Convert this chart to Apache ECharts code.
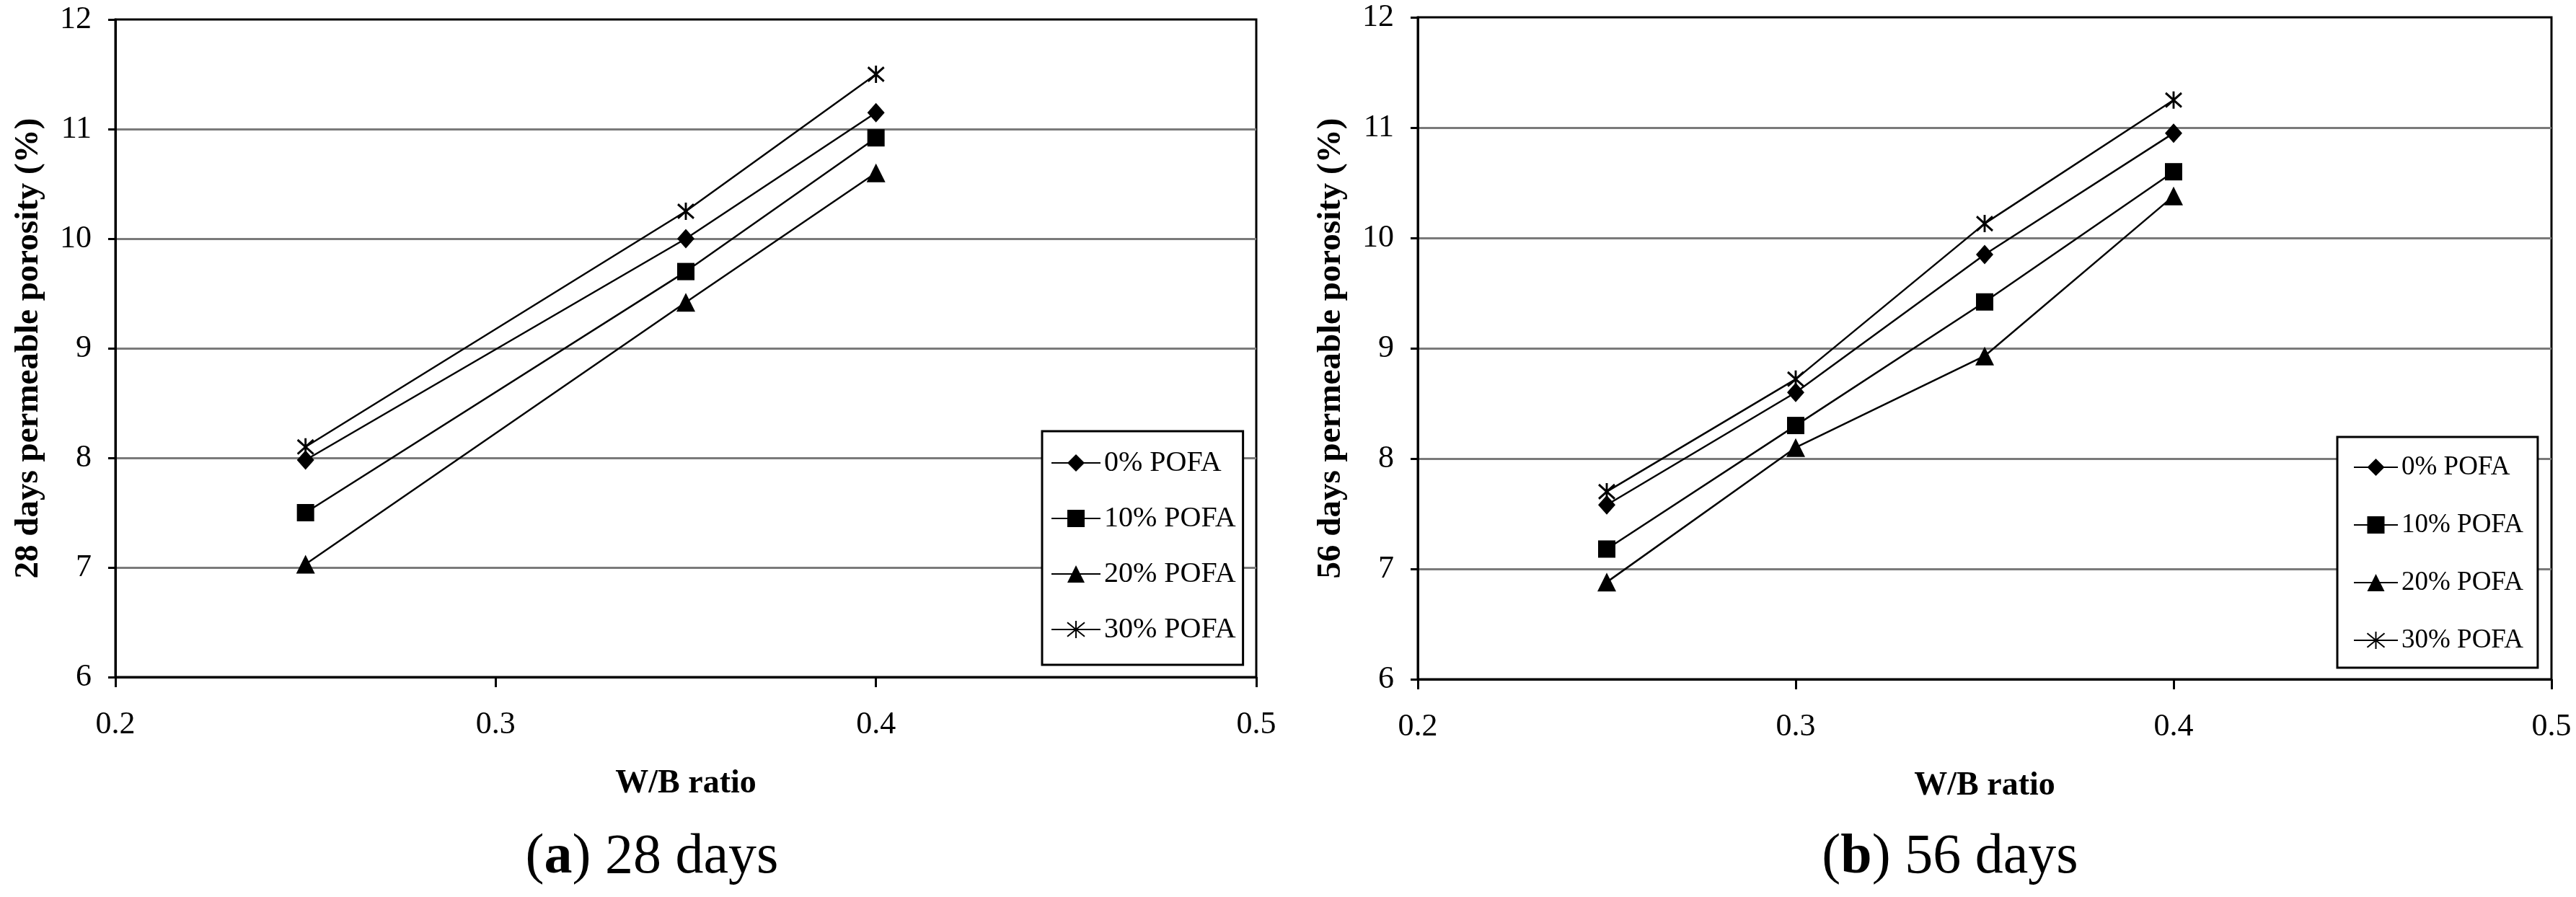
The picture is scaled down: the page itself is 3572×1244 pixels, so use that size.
<!DOCTYPE html>
<html><head><meta charset="utf-8">
<script src="https://cdn.jsdelivr.net/npm/echarts@6/dist/echarts.min.js"></script>
<style>html,body{margin:0;padding:0;background:#fff}#c{width:3572px;height:1244px}</style>
</head><body><div id="c"></div>
<script>
// ---- data ----
const seriesNames = ['0% POFA', '10% POFA', '20% POFA', '30% POFA'];
const wb28 = [0.25, 0.35, 0.4];
const d28_0 = [7.98, 10.0, 11.15];
const d28_10 = [7.5, 9.7, 10.92];
const d28_20 = [7.03, 9.42, 10.6];
const d28_30 = [8.1, 10.25, 11.5];
const wb56 = [0.25, 0.3, 0.35, 0.4];
const d56_0 = [7.58, 8.6, 9.85, 10.95];
const d56_10 = [7.18, 8.3, 9.42, 10.6];
const d56_20 = [6.88, 8.1, 8.93, 10.38];
const d56_30 = [7.7, 8.72, 10.13, 11.25];
const xMin = 0.2, xMax = 0.5, xStep = 0.1;
const yMin = 6, yMax = 12, yStep = 1;
const yTitles = ['28 days permeable porosity (%)', '56 days permeable porosity (%)'];
const xTitle = 'W/B ratio';
const captions = [['a', '28 days'], ['b', '56 days']];

const FF = 'Liberation Serif';
const starPath = 'path://M10 0 L10 22 M0 2 L20 20 M0 20 L20 2';
const symbols = ['diamond', 'rect', 'triangle', starPath];
const symSizes = [[24, 27], [24, 24], [26, 26], [22, 24]];

function mk(name, xs, ys, idx, k) {
  return {
    type: 'line', name: name, xAxisIndex: idx, yAxisIndex: idx,
    data: xs.map((x, i) => [x, ys[i]]),
    symbol: symbols[k], symbolSize: symSizes[k],
    lineStyle: { color: '#000', width: 2.5 },
    itemStyle: { color: '#000', borderColor: '#000', borderWidth: k === 3 ? 3 : 0 },
    emphasis: { disabled: true }, animation: false, z: 3
  };
}
function xAx(idx) {
  return {
    type: 'value', gridIndex: idx, min: xMin, max: xMax, interval: xStep,
    axisLine: { show: true, lineStyle: { color: '#000', width: 3 } },
    axisTick: { show: true, inside: false, length: 14, lineStyle: { color: '#000', width: 3 } },
    axisLabel: { fontSize: 44, color: '#000', fontFamily: FF, margin: 44, formatter: v => v.toFixed(1) },
    splitLine: { show: false },
    name: xTitle, nameLocation: 'middle', nameGap: 125,
    nameTextStyle: { fontSize: 46, fontWeight: 'bold', fontFamily: FF, color: '#000' }
  };
}
function yAx(idx) {
  return {
    type: 'value', gridIndex: idx, min: yMin, max: yMax, interval: yStep,
    axisLine: { show: true, lineStyle: { color: '#000', width: 3 } },
    axisTick: { show: true, inside: false, length: 10, lineStyle: { color: '#000', width: 3 } },
    axisLabel: { fontSize: 44, color: '#000', fontFamily: FF, margin: 33 },
    splitLine: { show: true, showMinLine: false, showMaxLine: false, lineStyle: { color: '#7a7a7a', width: 3 } },
    name: yTitles[idx], nameLocation: 'middle', nameGap: 97,
    nameTextStyle: { fontSize: 47, fontWeight: 'bold', fontFamily: FF, color: '#000' }
  };
}
function legend(left, top, iw, gap, pad, fs) {
  return {
    left: left, top: top, orient: 'vertical', itemWidth: iw, itemHeight: 30, itemGap: gap,
    padding: pad, borderColor: '#000', borderWidth: 3, backgroundColor: '#fff',
    selectedMode: false, data: seriesNames, z: 10,
    textStyle: { fontSize: fs, lineHeight: 40, fontFamily: FF, color: '#000' }
  };
}
function caption(x, c) {
  return {
    type: 'text', x: x, y: 1190, z: 10,
    style: {
      text: '({b|' + c[0] + '}) ' + c[1], fontSize: 78, fontFamily: FF, fill: '#000',
      align: 'center', verticalAlign: 'middle', textAlign: 'center', textVerticalAlign: 'middle',
      rich: { b: { fontSize: 78, fontFamily: FF, fontWeight: 'bold', fill: '#000' } }
    }
  };
}

const data28 = [d28_0, d28_10, d28_20, d28_30];
const data56 = [d56_0, d56_10, d56_20, d56_30];
const series = [];
seriesNames.forEach((n, k) => series.push(mk(n, wb28, data28[k], 0, k)));
seriesNames.forEach((n, k) => series.push(mk(n, wb56, data56[k], 1, k)));

const chart = echarts.init(document.getElementById('c'), null, { renderer: 'canvas' });
chart.setOption({
  animation: false,
  backgroundColor: '#fff',
  textStyle: { fontFamily: FF },
  grid: [
    { left: 160, top: 27, width: 1582, height: 912, show: true, borderColor: '#000', borderWidth: 3 },
    { left: 1966, top: 24, width: 1572, height: 918, show: true, borderColor: '#000', borderWidth: 3 }
  ],
  xAxis: [xAx(0), xAx(1)],
  yAxis: [yAx(0), yAx(1)],
  legend: [
    legend(1445, 598, 68, 37, [24, 10, 29, 12], 40),
    legend(3241, 606, 61, 40, [22, 20, 18, 22], 37)
  ],
  graphic: [caption(904, captions[0]), caption(2704, captions[1])],
  series: series
});
</script></body></html>
